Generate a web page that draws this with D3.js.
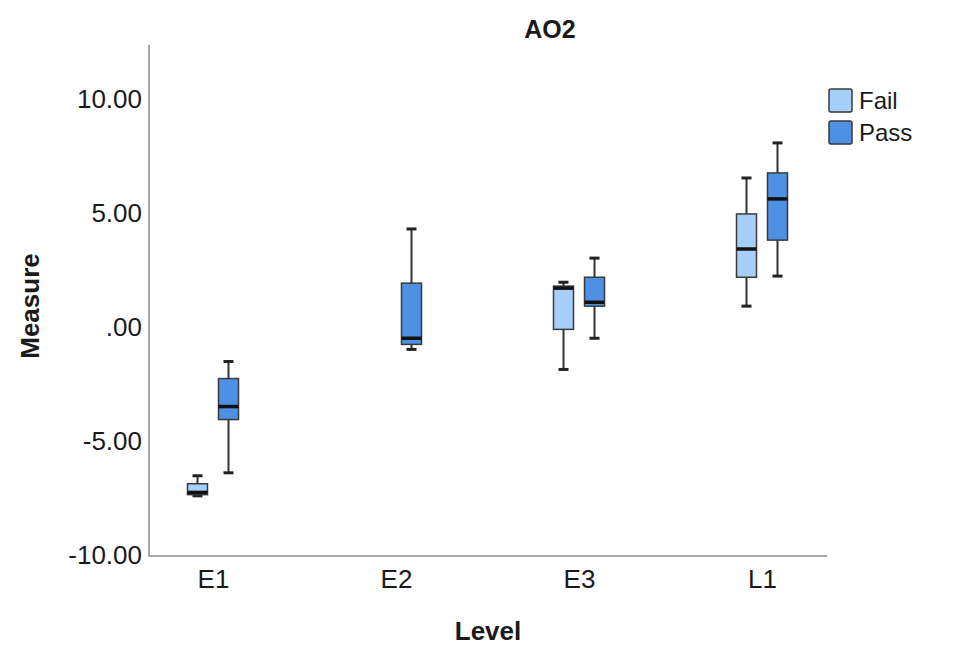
<!DOCTYPE html>
<html>
<head>
<meta charset="utf-8">
<script src="https://cdn.jsdelivr.net/npm/d3@7"></script>
<style>
  html, body { margin: 0; padding: 0; background: #fff; }
  svg { display: block; font-family: "Liberation Sans", Arial, sans-serif; }
</style>
</head>
<body>
<svg id="chart" width="958" height="645"></svg>
<script>
// Categories and groups
const levels = ["E1", "E2", "E3", "L1"];
const groups = ["Fail", "Pass"];
const groupColors = ["#a6d0fa", "#4e90e3"];

// Box statistics per level: [min, q1, median, q3, max]; null = no cases
const failStats = [
  [-7.40, -7.35, -7.25, -6.87, -6.52],
  null,
  [-1.85, -0.09, 1.72, 1.81, 1.98],
  [0.93, 2.20, 3.44, 4.98, 6.56]
];
const passStats = [
  [-6.39, -4.05, -3.48, -2.25, -1.50],
  [-0.97, -0.75, -0.48, 1.94, 4.32],
  [-0.48, 0.93, 1.10, 2.20, 3.04],
  [2.25, 3.83, 5.64, 6.78, 8.10]
];

// Y axis ticks
const yTicks = [-10, -5, 0, 5, 10];

const svg = d3.select("#chart");

const x = d3.scalePoint().domain(levels).range([213, 762]);
const y = d3.scaleLinear().domain([-10, 12.4]).range([555, 45]);
const groupOffset = d3.scalePoint().domain(groups).range([-15.5, 15.5]);
const boxW = 20;
const capW = 10;

// Axes
const yAxis = d3.axisLeft(y)
  .tickValues(yTicks)
  .tickSize(0)
  .tickPadding(7)
  .tickFormat(d => d === 0 ? ".00" : d.toFixed(2));

const gy = svg.append("g").attr("transform", "translate(149,0)").call(yAxis);
gy.select(".domain").remove();
gy.selectAll("text")
  .attr("font-size", 26)
  .attr("fill", "#1a1a1a")
  .attr("font-family", "Liberation Sans, Arial, sans-serif");

const xAxis = d3.axisBottom(x).tickSize(0).tickPadding(14);
const gx = svg.append("g").attr("transform", "translate(0,556)").call(xAxis);
gx.select(".domain").remove();
gx.selectAll("text")
  .attr("font-size", 26)
  .attr("fill", "#1a1a1a")
  .attr("font-family", "Liberation Sans, Arial, sans-serif");

// Axis lines
svg.append("line")
  .attr("x1", 149).attr("x2", 149)
  .attr("y1", 45).attr("y2", 556)
  .attr("stroke", "#a8a8a8").attr("stroke-width", 2);
svg.append("line")
  .attr("x1", 148).attr("x2", 827)
  .attr("y1", 556).attr("y2", 556)
  .attr("stroke", "#a8a8a8").attr("stroke-width", 2);

// Boxplots
const boxes = [];
levels.forEach((lv, i) => {
  [failStats[i], passStats[i]].forEach((s, g) => {
    if (s) boxes.push({ level: lv, group: groups[g], color: groupColors[g], s });
  });
});

const bg = svg.append("g")
  .selectAll("g")
  .data(boxes)
  .join("g")
  .attr("transform", d => `translate(${x(d.level) + groupOffset(d.group)},0)`);

// whiskers
bg.append("line")
  .attr("x1", 0).attr("x2", 0)
  .attr("y1", d => y(d.s[4])).attr("y2", d => y(d.s[0]))
  .attr("stroke", "#333").attr("stroke-width", 2);
// caps
bg.selectAll(".cap")
  .data(d => [d.s[0], d.s[4]])
  .join("line")
  .attr("class", "cap")
  .attr("x1", -capW / 2).attr("x2", capW / 2)
  .attr("y1", v => y(v)).attr("y2", v => y(v))
  .attr("stroke", "#222").attr("stroke-width", 3);
// box
bg.append("rect")
  .attr("x", -boxW / 2)
  .attr("width", boxW)
  .attr("y", d => y(d.s[3]))
  .attr("height", d => y(d.s[1]) - y(d.s[3]))
  .attr("fill", d => d.color)
  .attr("stroke", "#3a3a3a")
  .attr("stroke-width", 1.5);
// median
bg.append("line")
  .attr("x1", -boxW / 2).attr("x2", boxW / 2)
  .attr("y1", d => y(d.s[2])).attr("y2", d => y(d.s[2]))
  .attr("stroke", "#111").attr("stroke-width", 3.5);

// Title
svg.append("text")
  .attr("x", 550).attr("y", 38)
  .attr("text-anchor", "middle")
  .attr("font-size", 25).attr("font-weight", "bold")
  .attr("fill", "#1a1a1a")
  .text("AO2");

// Axis titles
svg.append("text")
  .attr("x", 488).attr("y", 640)
  .attr("text-anchor", "middle")
  .attr("font-size", 26).attr("font-weight", "bold")
  .attr("fill", "#1a1a1a")
  .text("Level");

svg.append("text")
  .attr("transform", "translate(39,306) rotate(-90)")
  .attr("text-anchor", "middle")
  .attr("font-size", 26).attr("font-weight", "bold")
  .attr("fill", "#1a1a1a")
  .text("Measure");

// Legend
const lg = svg.append("g").attr("transform", "translate(829,89)");
const li = lg.selectAll("g")
  .data(groups)
  .join("g")
  .attr("transform", (d, i) => `translate(0,${i * 32})`);
li.append("rect")
  .attr("width", 23).attr("height", 23)
  .attr("rx", 2)
  .attr("fill", (d, i) => groupColors[i])
  .attr("stroke", "#3a3a3a").attr("stroke-width", 1.5);
li.append("text")
  .attr("x", 30).attr("y", 20)
  .attr("font-size", 24)
  .attr("fill", "#1a1a1a")
  .text(d => d);
</script>
</body>
</html>
